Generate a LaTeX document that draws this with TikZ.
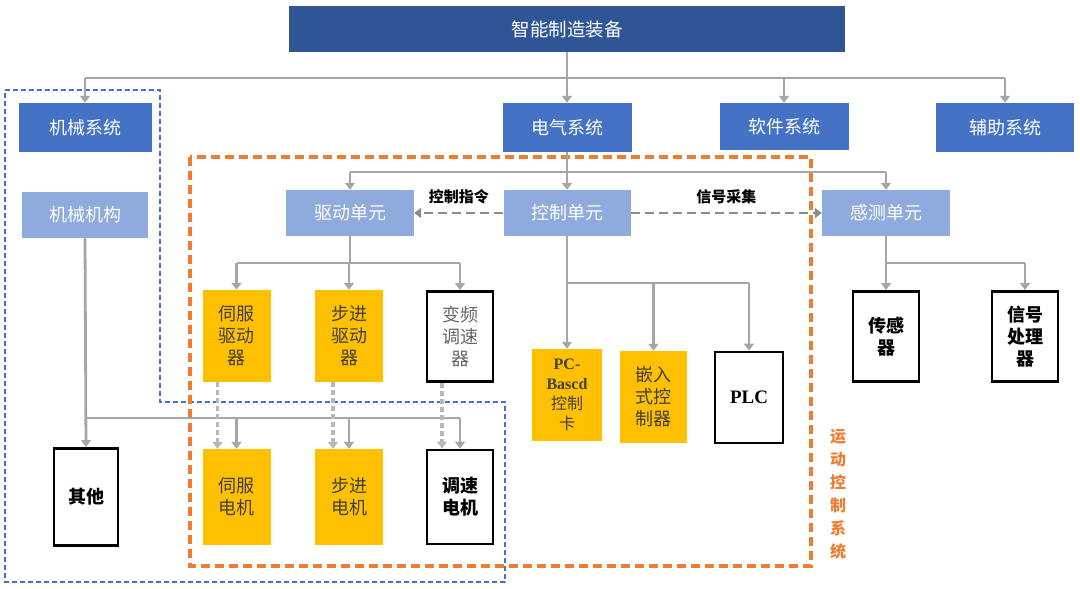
\documentclass[tikz,border=0pt]{standalone}
\usepackage{fontspec}
\setmainfont{Noto Sans CJK SC}
\newfontfamily\latinserif{Liberation Serif}
\usetikzlibrary{arrows.meta}
\definecolor{topblue}{HTML}{2F5597}
\definecolor{midblue}{HTML}{4472C4}
\definecolor{lightblue}{HTML}{8FAADC}
\definecolor{boxyellow}{HTML}{FFC000}
\definecolor{linegray}{HTML}{A6A6A6}
\definecolor{dashgray}{HTML}{8C8C8C}
\definecolor{dashorange}{HTML}{ED7D31}
\definecolor{textgray}{HTML}{404040}
\begin{document}
\begin{tikzpicture}[x=1pt,y=-1pt,
    sysbox/.style={fill=midblue,text=white,minimum width=129pt,minimum height=49pt,inner sep=0pt,font=\fontsize{18}{20}\selectfont},
    unitbox/.style={fill=lightblue,text=white,minimum width=128pt,minimum height=46pt,inner sep=0pt,font=\fontsize{18}{20}\selectfont},
    partbox/.style={fill=boxyellow,text=textgray,minimum width=68pt,minimum height=92pt,inner sep=0pt,align=center,font=\fontsize{18}{22}\selectfont},
    openbox/.style={draw=black,line width=2.8pt,fill=white,minimum width=66pt,minimum height=90pt,inner sep=0pt,align=center,font=\bfseries\fontsize{18}{22}\selectfont},
    link/.style={draw=linegray,line width=2.8pt},
    feed/.style={link,-{Triangle[length=7pt,width=10pt]}},
    cmd/.style={draw=dashgray,line width=2.2pt,dash pattern=on 9pt off 5pt,-{Triangle[length=7pt,width=10pt]}},
    pass/.style={draw=linegray!80,line width=3.5pt,dash pattern=on 5pt off 3pt,-{Triangle[length=7pt,width=10pt]}},
    tag/.style={text=black,font=\bfseries\fontsize{15}{16}\selectfont}]
\useasboundingbox (0,0) rectangle (1080,589);
\draw[draw=midblue,line width=1.8pt,dash pattern=on 5pt off 3pt] (5,90) -- (160,90) -- (160,402) -- (505,402) -- (505,582) -- (5,582) -- cycle;
\draw[draw=dashorange,line width=3.2pt,dash pattern=on 9pt off 5pt] (190,157) rectangle (811,566);
\node[text=dashorange,align=center,font=\bfseries\fontsize{16}{23}\selectfont] (mcs) at (838,494) {运\\动\\控\\制\\系\\统};
\node[fill=topblue,text=white,minimum width=556pt,minimum height=46pt,inner sep=0pt,font=\fontsize{18.5}{20}\selectfont] (top) at (567,29) {智能制造装备};
\node[sysbox,minimum width=133pt] (mech) at (85,127.5) {机械系统};
\node[sysbox] (elec) at (567,127.5) {电气系统};
\node[sysbox,minimum height=47pt] (soft) at (784,126.5) {软件系统};
\node[sysbox,minimum width=138pt] (aux) at (1005,127.5) {辅助系统};
\node[unitbox,minimum width=126pt] (mechpart) at (85,215) {机械机构};
\node[unitbox] (drive) at (350,213) {驱动单元};
\node[unitbox,minimum width=127pt] (ctrl) at (567,213) {控制单元};
\node[unitbox] (sense) at (886,213) {感测单元};
\node[partbox] (servodrv) at (236.5,336) {伺服\\驱动\\器};
\node[partbox] (stepdrv) at (349,336) {步进\\驱动\\器};
\node[openbox,text=textgray!80,font=\fontsize{18}{22}\selectfont] (vfd) at (460,336.5) {变频\\调速\\器};
\node[partbox,minimum height=96pt] (servomot) at (236.5,497) {伺服\\电机};
\node[partbox,minimum height=96pt] (stepmot) at (349,497) {步进\\电机};
\node[openbox,minimum height=94pt] (spdmot) at (460,497) {调速\\电机};
\node[openbox,minimum width=64pt,minimum height=97pt] (other) at (86,497) {其他};
\node[partbox,minimum width=70pt,font=\fontsize{16}{20}\selectfont] (pc) at (567,395) {{\latinserif\bfseries PC-}\\{\latinserif\bfseries Bascd}\\控制\\卡};
\node[partbox,minimum width=67pt] (emb) at (653.5,397) {嵌入\\式控\\制器};
\node[openbox,minimum width=68pt,minimum height=91pt,font=\latinserif\bfseries\fontsize{19}{22}\selectfont] (plc) at (749,397.5) {PLC};
\node[openbox] (sensor) at (886,336.5) {传感\\器};
\node[openbox] (sigproc) at (1025,336.5) {信号\\处理\\器};
\coordinate (bus) at (567,78);
\coordinate (bus2) at (567,172);
\coordinate (bus3) at (350,263);
\coordinate (bus4) at (85,418);
\coordinate (bus5) at (567,283);
\coordinate (bus6) at (886,263);
\draw[link] (top.south) -- (bus);
\draw[link] (mech.north |- bus) -- (aux.north |- bus);
\foreach \n in {mech,elec,soft,aux} \draw[feed] (\n.north |- bus) -- (\n.north);
\draw[feed] (elec.south) -- (ctrl.north);
\draw[link] (drive.north |- bus2) -- (sense.north |- bus2);
\foreach \n in {drive,sense} \draw[feed] (\n.north |- bus2) -- (\n.north);
\draw[cmd] (ctrl.west) -- (drive.east) node[midway,above=5pt,tag] {控制指令};
\draw[cmd] (ctrl.east) -- (sense.west) node[midway,above=5pt,tag] {信号采集};
\draw[link] (drive.south) -- (bus3);
\draw[link] (servodrv.north |- bus3) -- (vfd.north |- bus3);
\foreach \n in {servodrv,stepdrv,vfd} \draw[feed] (\n.north |- bus3) -- (\n.north);
\draw[feed] (mechpart.south) -- (other.north);
\draw[link] (bus4) -- (spdmot.north |- bus4);
\foreach \n in {servomot,stepmot,spdmot} \draw[feed] (\n.north |- bus4) -- (\n.north);
\draw[pass] ([xshift=-19pt]servodrv.south) -- ([xshift=-19pt]servomot.north);
\draw[pass] ([xshift=-16pt]stepdrv.south) -- ([xshift=-16pt]stepmot.north);
\draw[pass] ([xshift=-18pt]vfd.south) -- ([xshift=-18pt]spdmot.north);
\draw[link] (ctrl.south) -- (bus5) -- (plc.north |- bus5);
\foreach \n in {pc,emb,plc} \draw[feed] (\n.north |- bus5) -- (\n.north);
\draw[link] (sense.south) -- (bus6) -- (sigproc.north |- bus6);
\foreach \n in {sensor,sigproc} \draw[feed] (\n.north |- bus6) -- (\n.north);
\end{tikzpicture}
\end{document}
